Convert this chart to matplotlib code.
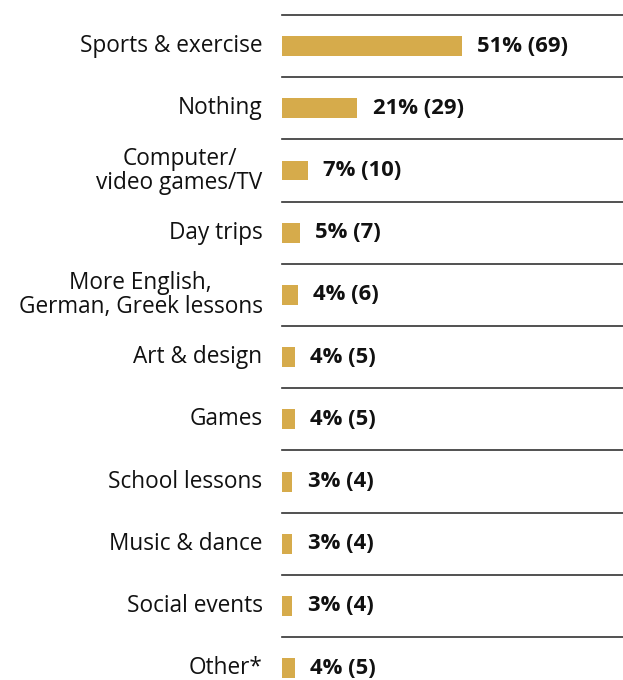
import matplotlib
matplotlib.use('Agg')
import matplotlib.pyplot as plt

categories = ['Sports & exercise', 'Nothing', 'Computer/\nvideo games/TV', 'Day trips',
              'More English,\nGerman, Greek lessons', 'Art & design', 'Games',
              'School lessons', 'Music & dance', 'Social events', 'Other*']
percents = [51, 21, 7, 5, 4, 4, 4, 3, 3, 3, 4]
counts = [69, 29, 10, 7, 6, 5, 5, 4, 4, 4, 5]

plt.rcParams['font.family'] = ['Open Sans', 'DejaVu Sans']

fig = plt.figure(figsize=(6.23, 6.80), dpi=100)
ax = fig.add_axes([282 / 623, 0, 1 - 282 / 623, 1 - 15 / 680])

y = list(range(len(categories)))
ax.barh(y, counts, height=0.32, color='#D6AB4B')

for i, (p, c) in enumerate(zip(percents, counts)):
    ax.annotate(f'{p}% ({c})', xy=(c, i), xytext=(11, 0), textcoords='offset points',
                va='center', ha='left', fontsize=15.8, fontweight='bold', color='#111111')

# separators between rows
for i in range(len(categories)):
    ax.axhline(i - 0.5, color='#333333', linewidth=1.2, clip_on=False)

ax.set_xlim(0, 131)
ax.set_ylim(10.19, -0.5)
ax.set_yticks(y)
ax.set_yticklabels(categories, fontsize=16.3, color='#111111', multialignment='center',
                   linespacing=1.0, va='center')
ax.tick_params(axis='y', length=0, pad=14)
ax.set_xticks([])
for s in ax.spines.values():
    s.set_visible(False)

fig.savefig('out.png', dpi=100)
